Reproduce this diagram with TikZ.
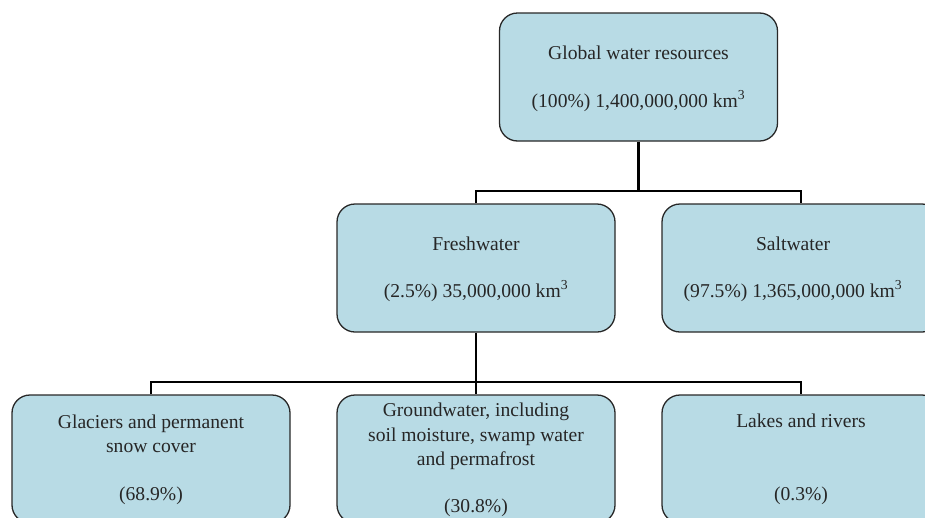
\documentclass[tikz,border=0pt]{standalone}
\usepackage{fontspec}
\setmainfont{Liberation Serif}
\usetikzlibrary{calc}
\definecolor{boxfill}{RGB}{184,219,229}
\definecolor{boxline}{RGB}{40,40,40}
\tikzset{
  box/.style={draw=boxline, line width=1.3pt, fill=boxfill, rounded corners=18pt,
    minimum width=278pt, minimum height=128pt, inner sep=0pt},
  txt/.style={anchor=base, inner sep=0pt, text=black!85,
    font=\fontsize{19.6}{24}\selectfont},
  conn/.style={draw=black, line width=2.2pt}
}
\begin{document}
\begin{tikzpicture}[x=1pt,y=-1pt]
\useasboundingbox (0,0) rectangle (925,517);
\clip (0,0) rectangle (925,517);
\fill[white] (0,0) rectangle (925,517);
% boxes
\node[box] (top) at (638.5,77) {};
\node[box] (fresh) at (476,268) {};
\node[box] (salt) at (801,268) {};
\node[box] (glac) at (151,459) {};
\node[box] (ground) at (476,459) {};
\node[box] (lakes) at (801,459) {};
% connectors
\draw[conn] (fresh.north) -- ++(0,-12) coordinate (j1) -| (salt.north);
\draw[conn] (top.south) -- (top.south |- j1);
\draw[conn] (fresh.south) -- (ground.north);
\draw[conn] (glac.north) -- ++(0,-12) -| (lakes.north);
% texts
\node[txt] (t1) at ($(top.north)+(0,47)$) {Global water resources};
\node[txt] (t2) at ($(top.north)+(0,95)$) {(100\%) 1,400,000,000 km\textsuperscript{3}};
\node[txt] (f1) at ($(fresh.north)+(0,47)$) {Freshwater};
\node[txt] (f2) at ($(fresh.north)+(0,94)$) {(2.5\%) 35,000,000 km\textsuperscript{3}};
\node[txt] (s1) at ($(salt.north)+(-8,47)$) {Saltwater};
\node[txt] (s2) at ($(salt.north)+(-8,94)$) {(97.5\%) 1,365,000,000 km\textsuperscript{3}};
\node[txt] (g1) at ($(glac.north)+(0,34)$) {Glaciers and permanent};
\node[txt] (g2) at ($(glac.north)+(0,58)$) {snow cover};
\node[txt] (g3) at ($(glac.north)+(0,106)$) {(68.9\%)};
\node[txt] (w1) at ($(ground.north)+(0,22)$) {Groundwater, including};
\node[txt] (w2) at ($(ground.north)+(0,47)$) {soil moisture, swamp water};
\node[txt] (w3) at ($(ground.north)+(0,71)$) {and permafrost};
\node[txt] (w4) at ($(ground.north)+(0,118)$) {(30.8\%)};
\node[txt] (l1) at ($(lakes.north)+(0,33)$) {Lakes and rivers};
\node[txt] (l2) at ($(lakes.north)+(0,106)$) {(0.3\%)};
\end{tikzpicture}
\end{document}
